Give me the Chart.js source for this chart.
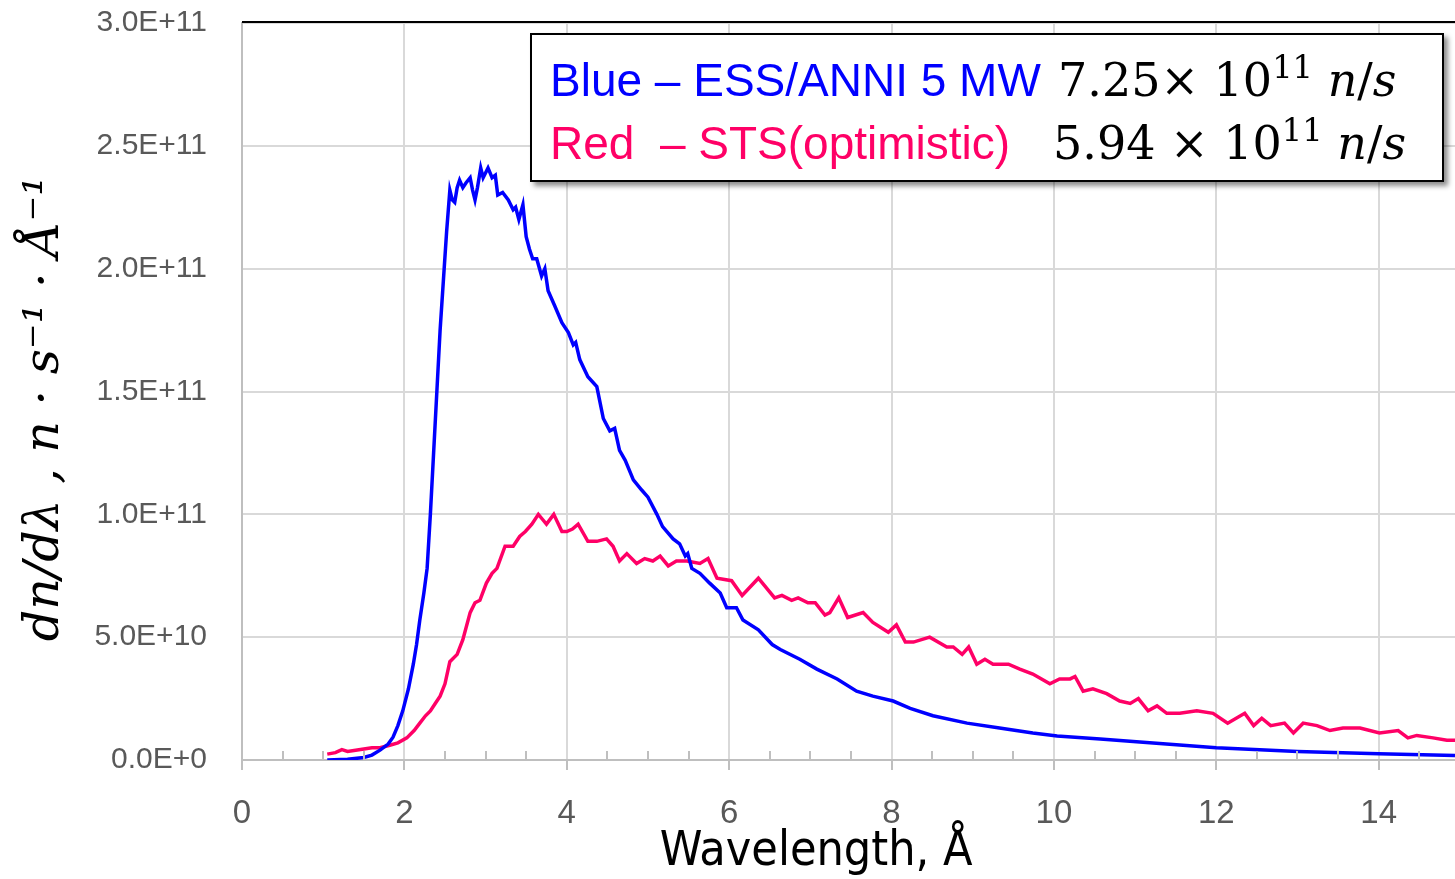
<!DOCTYPE html>
<html>
<head>
<meta charset="utf-8">
<script src="https://cdn.jsdelivr.net/npm/chart.js@4"></script>
<style>
    html, body { margin: 0; padding: 0; background: #fff; }
    #wrap { position: relative; width: 1455px; height: 879px; overflow: hidden; }
    .legend-box {
        position: absolute; left: 530px; top: 33px; width: 910px; height: 145px;
        border: 2px solid #000; background: #fff;
        box-shadow: 4px 4px 5px rgba(0, 0, 0, 0.45);
    }
    .legend-box span { position: absolute; white-space: nowrap; line-height: 1; }
    .lbl { font-family: "Liberation Sans", Arial, sans-serif; font-size: 46px; }
    .math { font-family: "DejaVu Serif", "Liberation Serif", serif; font-size: 46px; color: #000; }
    .math sup { font-size: 0.7em; vertical-align: 0.55em; line-height: 0; }
</style>
</head>
<body>
<div id="wrap">
    <canvas id="spectrum-chart" width="1455" height="879"></canvas>
    <div class="legend-box">
        <span class="lbl" style="left:18px; top:22px; color:#0000ff;">Blue – ESS/ANNI 5 MW</span>
        <span class="math" style="left:526px; top:22px;">7.25× 10<sup>11</sup> <i>n</i>/<i>s</i></span>
        <span class="lbl" style="left:18px; top:85px; color:#ff0066;">Red &nbsp;– STS(optimistic)</span>
        <span class="math" style="left:521px; top:85px;">5.94 × 10<sup>11</sup> <i>n</i>/<i>s</i></span>
    </div>
</div>
<script>
// wavelength (Å) and dn/dλ (units of 1E+11 n/s/Å)
const blueX = [1.05, 1.3, 1.5, 1.6, 1.7, 1.8, 1.86, 1.92, 1.98, 2.05, 2.11, 2.15, 2.19, 2.24, 2.28, 2.32,
    2.36, 2.4, 2.44, 2.49, 2.52, 2.56, 2.59, 2.62, 2.65, 2.68, 2.72, 2.76, 2.81, 2.84, 2.87, 2.9, 2.94,
    2.97, 3.03, 3.08, 3.12, 3.15, 3.21, 3.28, 3.34, 3.37, 3.41, 3.46, 3.5, 3.54, 3.58, 3.63, 3.69, 3.73,
    3.77, 3.85, 3.94, 4.02, 4.08, 4.11, 4.16, 4.26, 4.37, 4.45, 4.53, 4.59, 4.65, 4.72, 4.82, 4.92, 5.0,
    5.11, 5.18, 5.31, 5.39, 5.46, 5.49, 5.54, 5.64, 5.76, 5.89, 5.97, 6.09, 6.17, 6.36, 6.53, 6.63, 6.87,
    7.08, 7.33, 7.57, 7.77, 8.02, 8.23, 8.51, 8.93, 9.33, 9.74, 10.04, 10.57, 11.18, 12.0, 13.0, 14.0, 14.94];
const blueY = [0.0, 0.003, 0.01, 0.02, 0.04, 0.065, 0.093, 0.14, 0.2, 0.29, 0.39, 0.47, 0.57, 0.68, 0.78, 1.0,
    1.25, 1.5, 1.75, 2.0, 2.15, 2.32, 2.28, 2.27, 2.33, 2.36, 2.33, 2.35, 2.37, 2.32, 2.28, 2.33, 2.41,
    2.37, 2.41, 2.37, 2.38, 2.3, 2.31, 2.28, 2.24, 2.25, 2.2, 2.26, 2.13, 2.08, 2.04, 2.04, 1.97, 2.0,
    1.91, 1.85, 1.78, 1.74, 1.69, 1.7, 1.63, 1.56, 1.52, 1.39, 1.34, 1.35, 1.26, 1.22, 1.14, 1.1, 1.07,
    1.0, 0.95, 0.9, 0.88, 0.83, 0.84, 0.78, 0.76, 0.72, 0.68, 0.62, 0.62, 0.57, 0.53, 0.47, 0.45, 0.41,
    0.37, 0.33, 0.28, 0.26, 0.24, 0.21, 0.18, 0.15, 0.13, 0.11, 0.098, 0.085, 0.07, 0.05, 0.035, 0.025, 0.018];

const redX = [1.05, 1.15, 1.23, 1.3, 1.4, 1.5, 1.6, 1.7, 1.82, 1.92, 2.03, 2.12, 2.19, 2.26, 2.32, 2.38, 2.44,
    2.5, 2.56, 2.65, 2.72, 2.81, 2.87, 2.93, 3.01, 3.08, 3.14, 3.24, 3.28, 3.34, 3.42, 3.49, 3.57, 3.65,
    3.7, 3.75, 3.84, 3.94, 4.0, 4.07, 4.14, 4.26, 4.37, 4.49, 4.57, 4.65, 4.74, 4.86, 4.96, 5.06, 5.15,
    5.25, 5.35, 5.48, 5.64, 5.74, 5.85, 6.03, 6.16, 6.36, 6.56, 6.65, 6.77, 6.85, 6.97, 7.06, 7.18, 7.24,
    7.35, 7.46, 7.65, 7.77, 7.96, 8.06, 8.17, 8.27, 8.47, 8.68, 8.76, 8.87, 8.95, 9.05, 9.15, 9.25, 9.44,
    9.58, 9.74, 9.95, 10.07, 10.2, 10.26, 10.36, 10.48, 10.65, 10.81, 10.94, 11.04, 11.16, 11.27, 11.39,
    11.55, 11.76, 11.96, 12.14, 12.35, 12.46, 12.56, 12.67, 12.84, 12.95, 13.07, 13.24, 13.4, 13.56,
    13.77, 14.01, 14.24, 14.36, 14.47, 14.67, 14.84, 14.94];
const redY = [0.024, 0.03, 0.042, 0.035, 0.04, 0.045, 0.05, 0.05, 0.06, 0.07, 0.09, 0.12, 0.15, 0.18, 0.2, 0.23, 0.26,
    0.31, 0.4, 0.43, 0.49, 0.6, 0.64, 0.65, 0.72, 0.76, 0.78, 0.87, 0.87, 0.87, 0.91, 0.93, 0.96, 1.0,
    0.98, 0.96, 1.0, 0.93, 0.93, 0.94, 0.96, 0.89, 0.89, 0.9, 0.87, 0.81, 0.84, 0.8, 0.82, 0.81, 0.83,
    0.79, 0.81, 0.81, 0.8, 0.82, 0.74, 0.73, 0.67, 0.74, 0.66, 0.67, 0.65, 0.66, 0.64, 0.64, 0.59, 0.6,
    0.66, 0.58, 0.6, 0.56, 0.52, 0.55, 0.48, 0.48, 0.5, 0.46, 0.46, 0.43, 0.46, 0.39, 0.41, 0.39, 0.39,
    0.37, 0.35, 0.31, 0.33, 0.33, 0.34, 0.28, 0.29, 0.27, 0.24, 0.23, 0.25, 0.2, 0.22, 0.19,
    0.19, 0.2, 0.19, 0.15, 0.19, 0.14, 0.17, 0.14, 0.15, 0.11, 0.15, 0.14, 0.12, 0.13,
    0.13, 0.11, 0.12, 0.09, 0.1, 0.09, 0.08, 0.08];

const xTicks = [0, 2, 4, 6, 8, 10, 12, 14];
const xMinorTicks = [0.5, 1, 1.5, 2.5, 3, 3.5, 4.5, 5, 5.5, 6.5, 7, 7.5, 8.5, 9, 9.5, 10.5, 11, 11.5, 12.5, 13, 13.5, 14.5];
const yTicks = [0, 0.5, 1.0, 1.5, 2.0, 2.5, 3.0];

const axisGray = "#bfbfbf";
const gridGray = "#d9d9d9";

function toPoints(xs, ys) {
    return xs.map((x, i) => ({ x: x, y: ys[i] }));
}

// top border of the plot and the small inside ticks between major gridlines
const frameExtras = {
    id: "frameExtras",
    afterDraw(chart) {
        const { ctx, chartArea } = chart;
        const xs = chart.scales.x;
        ctx.save();
        ctx.strokeStyle = axisGray;
        ctx.lineWidth = 2;
        xMinorTicks.forEach((v) => {
            const px = Math.round(xs.getPixelForValue(v));
            ctx.beginPath();
            ctx.moveTo(px, chartArea.bottom);
            ctx.lineTo(px, chartArea.bottom - 9);
            ctx.stroke();
        });
        ctx.strokeStyle = "#000";
        ctx.beginPath();
        ctx.moveTo(chartArea.left, chartArea.top - 1);
        ctx.lineTo(chartArea.right, chartArea.top - 1);
        ctx.stroke();
        ctx.restore();
    },
};

new Chart(document.getElementById("spectrum-chart"), {
    type: "line",
    data: {
        datasets: [
            {
                label: "ESS/ANNI 5 MW",
                data: toPoints(blueX, blueY),
                borderColor: "#0000ff",
                borderWidth: 3.5,
                pointRadius: 0,
                tension: 0,
            },
            {
                label: "STS (optimistic)",
                data: toPoints(redX, redY),
                borderColor: "#ff0066",
                borderWidth: 3.5,
                pointRadius: 0,
                tension: 0,
            },
        ],
    },
    options: {
        responsive: false,
        animation: false,
        layout: { padding: { top: 23, right: 0, bottom: 0, left: 0 } },
        plugins: {
            legend: { display: false },
            tooltip: { enabled: false },
        },
        scales: {
            x: {
                type: "linear",
                min: 0,
                max: 14.94,
                afterBuildTicks(scale) {
                    scale.ticks = xTicks.map((v) => ({ value: v }));
                },
                afterFit(scale) {
                    scale.height = 119;
                    scale.paddingLeft = 0;
                    scale.paddingRight = 0;
                },
                grid: { color: gridGray, lineWidth: 2, tickLength: 10, tickColor: axisGray },
                border: { color: axisGray, width: 2 },
                ticks: {
                    color: "#595959",
                    padding: 24,
                    maxRotation: 0,
                    font: { family: "'Liberation Sans', Arial, sans-serif", size: 33 },
                },
                title: {
                    display: true,
                    text: "Wavelength, Å\u2002\u2002\u2002",
                    color: "#000",
                    padding: { top: 0, bottom: 2 },
                    font: { family: "'DejaVu Sans Condensed', 'DejaVu Sans', sans-serif", size: 48, lineHeight: 1 },
                },
            },
            y: {
                min: 0,
                max: 3.0,
                afterBuildTicks(scale) {
                    scale.ticks = yTicks.map((v) => ({ value: v }));
                },
                afterFit(scale) {
                    scale.width = 242;
                    scale.paddingTop = 0;
                    scale.paddingBottom = 0;
                },
                grid: { color: gridGray, lineWidth: 2, drawTicks: false },
                border: { color: axisGray, width: 2 },
                ticks: {
                    color: "#595959",
                    padding: 35,
                    font: { family: "'Liberation Sans', Arial, sans-serif", size: 30 },
                    callback(value) {
                        return (value * 1e11).toExponential(1).toUpperCase();
                    },
                },
                title: {
                    display: true,
                    text: "dn/dλ , n · s⁻¹ · Å⁻¹\u2002\u2009",
                    color: "#000",
                    padding: { top: 16, bottom: 0 },
                    font: { family: "'DejaVu Serif', serif", size: 49, style: "italic", lineHeight: 1.2 },
                },
            },
        },
    },
    plugins: [frameExtras],
});
</script>
</body>
</html>
